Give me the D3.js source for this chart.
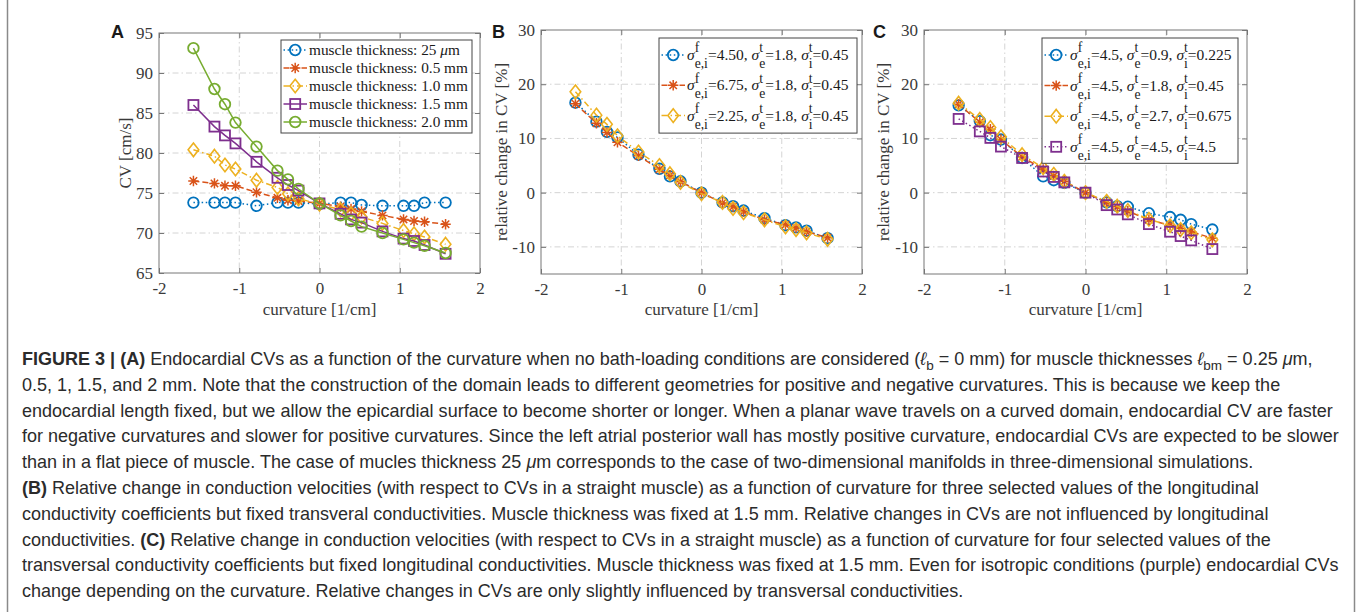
<!DOCTYPE html>
<html><head><meta charset="utf-8">
<script src="https://cdn.jsdelivr.net/npm/d3@7"></script>
<style>body{margin:0;background:#fff} svg{display:block} text{white-space:pre}</style>
</head><body><svg id="c" width="1357" height="612"></svg>
<script>
// ---------------- data ----------------
const curvature = [-1.571,-1.309,-1.178,-1.047,-0.785,-0.524,-0.393,-0.262,0,0.262,0.393,0.524,0.785,1.047,1.178,1.309,1.571];
const xTicks = [-2,-1,0,1,2];
const cvTicks = [65,70,75,80,85,90,95];
const relTicks = [-10,0,10,20,30];
const cvDomain = [65,95];
const relDomain = [-15,30];
const xDomain = [-2,2];

// Panel A: CV [cm/s]
const cv25um = [73.8,73.8,73.8,73.8,73.4,73.8,73.8,73.8,73.6,73.8,73.8,73.5,73.4,73.4,73.4,73.8,73.8];
const cv05mm = [76.5,76.2,75.9,75.9,75.1,74.4,74.1,74.0,73.7,73.3,73.0,72.7,72.2,71.7,71.5,71.4,71.1];
const cv10mm = [80.4,79.6,78.5,78.0,76.6,75.7,74.9,74.3,73.6,72.9,72.4,72.0,71.2,70.3,69.9,69.5,68.6];
const cv15mm = [86.0,83.3,82.2,81.2,78.9,76.9,76.0,75.3,73.7,72.4,71.7,71.3,70.2,69.3,69.0,68.5,67.4];
const cv20mm = [93.1,88.0,86.1,83.8,80.8,77.8,76.7,75.5,73.7,72.2,71.5,70.8,70.0,69.2,68.8,68.4,67.5];
const labelsA = ["muscle thickness: 25 ","muscle thickness: 0.5 mm","muscle thickness: 1.0 mm","muscle thickness: 1.5 mm","muscle thickness: 2.0 mm"];

// Panel B: relative change [%], longitudinal conductivities varied
const relB450 = [16.6,13.1,11.2,10.2,7.0,4.4,3.0,2.1,0,-1.8,-2.5,-3.3,-4.7,-6.0,-6.4,-7.0,-8.4];
const relB675 = [16.4,12.8,11.1,9.3,6.8,4.3,3.2,2.0,0,-1.9,-2.6,-3.5,-5.0,-5.9,-6.5,-7.2,-8.3];
const relB225 = [18.6,14.3,12.6,10.5,7.5,5.0,3.5,1.9,-0.2,-1.8,-2.9,-3.7,-5.0,-6.3,-6.8,-7.4,-8.6];
const paramsB = [["4.50","1.8","0.45"],["6.75","1.8","0.45"],["2.25","1.8","0.45"]];

// Panel C: relative change [%], transversal conductivities varied
const relC09 = [16.1,13.2,10.6,9.8,6.4,3.0,2.3,1.8,0,-1.8,-2.5,-2.6,-3.8,-4.5,-5.0,-5.8,-6.8];
const relC18 = [16.3,13.0,11.7,9.8,6.6,4.3,3.1,2.1,0,-1.8,-2.6,-3.4,-5.0,-6.0,-6.6,-7.2,-8.4];
const relC27 = [16.5,13.5,12.0,10.3,7.0,4.6,3.4,2.1,0,-1.6,-2.5,-3.3,-4.9,-6.1,-6.8,-7.4,-8.7];
const relC45 = [13.6,11.3,10.1,8.5,6.4,3.9,2.9,1.9,0,-2.3,-3.1,-4.0,-5.8,-7.2,-8.0,-8.8,-10.4];
const paramsC = [["4.5","0.9","0.225"],["4.5","1.8","0.45"],["4.5","2.7","0.675"],["4.5","4.5","4.5"]];

// ---------------- styles ----------------
const COL = {blue:"#0072BD", orange:"#D95319", yellow:"#EDB120", purple:"#7E2F8E", green:"#77AC30"};
const DASH = {":":"1.5,2.6", "--":"6,3", "-.":"6,3,1.5,3", "-":null};
const serif = "'Liberation Serif','Times New Roman',serif";
const sans = "'Liberation Sans',Arial,Helvetica,sans-serif";
const tickColor = "#3a3a3a";

const svg = d3.select("#c");

function drawMarker(g, type, x, y, color) {
  if (type === "o") {
    g.append("circle").attr("cx", x).attr("cy", y).attr("r", 5.3)
      .attr("fill", "none").attr("stroke", color).attr("stroke-width", 1.8);
  } else if (type === "*") {
    const a = 5.2, b = 3.7;
    g.append("path").attr("d", `M${x},${y-a}V${y+a}M${x-a},${y}H${x+a}M${x-b},${y-b}L${x+b},${y+b}M${x-b},${y+b}L${x+b},${y-b}`)
      .attr("fill", "none").attr("stroke", color).attr("stroke-width", 1.5);
  } else if (type === "d") {
    g.append("path").attr("d", `M${x},${y-6.8}L${x+5.3},${y}L${x},${y+6.8}L${x-5.3},${y}Z`)
      .attr("fill", "none").attr("stroke", color).attr("stroke-width", 1.6);
  } else if (type === "s") {
    g.append("rect").attr("x", x-5).attr("y", y-5).attr("width", 10).attr("height", 10)
      .attr("fill", "none").attr("stroke", color).attr("stroke-width", 1.8);
  }
}

function panel(opt) {
  const {left, right, top, bottom, yDomain, yTicks, series, ylabel, ylabelOffset, letter, letterX} = opt;
  const x = d3.scaleLinear().domain(xDomain).range([left, right]);
  const y = d3.scaleLinear().domain(yDomain).range([bottom, top]);
  const g = svg.append("g");

  // grid
  const grid = g.append("g").attr("stroke", "#d4d4d4").attr("stroke-width", 1).attr("stroke-dasharray", "6,3,1.5,3");
  xTicks.slice(1, -1).forEach(v => grid.append("line").attr("x1", x(v)).attr("x2", x(v)).attr("y1", top).attr("y2", bottom));
  yTicks.forEach(v => { if (v > yDomain[0] && v < yDomain[1]) grid.append("line").attr("x1", left).attr("x2", right).attr("y1", y(v)).attr("y2", y(v)); });

  // axes
  const ax = (gen, tr, labels) => {
    const a = g.append("g").attr("transform", tr).call(gen.tickSizeInner(-5).tickSizeOuter(0).tickFormat(labels ? (d => d < 0 ? "-" + Math.abs(d) : d) : () => ""));
    a.select(".domain").remove();
    a.selectAll("line").attr("stroke", "#777");
    a.selectAll("text").attr("fill", tickColor).style("font-family", serif).style("font-size", "17px");
    return a;
  };
  ax(d3.axisBottom(x).tickValues(xTicks).tickPadding(9), `translate(0,${bottom})`, true);
  ax(d3.axisTop(x).tickValues(xTicks), `translate(0,${top})`, false);
  ax(d3.axisLeft(y).tickValues(yTicks).tickPadding(6), `translate(${left},0)`, true);
  ax(d3.axisRight(y).tickValues(yTicks), `translate(${right},0)`, false);
  g.append("rect").attr("x", left).attr("y", top).attr("width", right-left).attr("height", bottom-top)
    .attr("fill", "none").attr("stroke", "#777").attr("stroke-width", 1);

  // labels
  g.append("text").attr("x", (left+right)/2).attr("y", 315).attr("text-anchor", "middle")
    .attr("fill", tickColor).style("font-family", serif).style("font-size", "17px").text("curvature [1/cm]");
  g.append("text").attr("transform", `translate(${left-ylabelOffset},${(top+bottom)/2}) rotate(-90)`)
    .attr("text-anchor", "middle").attr("fill", tickColor).style("font-family", serif).style("font-size", "17px").text(ylabel);
  g.append("text").attr("x", letterX).attr("y", 38).attr("fill", "#1a1a1a")
    .style("font-family", sans).style("font-weight", "bold").style("font-size", "18px").text(letter);

  // series
  series.forEach(s => {
    const line = d3.line().x((d, i) => x(curvature[i])).y(d => y(d));
    g.append("path").datum(s.values).attr("d", line).attr("fill", "none")
      .attr("stroke", s.color).attr("stroke-width", 1.5).attr("stroke-dasharray", DASH[s.dash]);
    const mg = g.append("g");
    s.values.forEach((v, i) => drawMarker(mg, s.marker, x(curvature[i]), y(v), s.color));
  });
  return g;
}

function legend(opt) {
  const {left, right, top, firstRow, rowH, series, fs, bottomPad, labelFn} = opt;
  const g = svg.append("g");
  const box = g.append("rect");
  series.forEach((s, i) => {
    const cy = firstRow + i * rowH;
    g.append("line").attr("x1", left + 2.5).attr("x2", left + 26).attr("y1", cy).attr("y2", cy)
      .attr("stroke", s.color).attr("stroke-width", 1.5).attr("stroke-dasharray", DASH[s.dash]);
    drawMarker(g, s.marker, left + 14.2, cy, s.color);
    const tg = g.append("g").attr("fill", "#1a1a1a").style("font-family", serif).style("font-size", fs + "px");
    labelFn(tg, left + 28, cy + fs * 0.32, i, fs);
  });
  const bottom = firstRow + (series.length - 1) * rowH + bottomPad;
  box.attr("x", left).attr("y", top).attr("width", right - left).attr("height", bottom - top)
    .attr("fill", "#fff").attr("stroke", "#444").attr("stroke-width", 1);
}

function rich(g, x, y, parts, fs) {
  let cx = x;
  parts.forEach(p => {
    if (p.sup !== undefined) {
      const a = g.append("text").attr("x", cx).attr("y", y - fs * 0.5).style("font-size", (fs*0.88) + "px").text(p.sup);
      const b = g.append("text").attr("x", cx).attr("y", y + fs * 0.52).style("font-size", (fs*0.88) + "px").text(p.sub);
      cx += Math.max(a.node().getComputedTextLength(), b.node().getComputedTextLength());
    } else {
      const t = g.append("text").attr("x", cx).attr("y", y).style("font-style", p.it ? "italic" : null).text(p.t);
      cx += t.node().getComputedTextLength();
    }
  });
}

function sigmaLabel(vals) {
  return [{t:"σ", it:true}, {sup:"f", sub:"e,i"}, {t:"=" + vals[0] + ", "},
          {t:"σ", it:true}, {sup:"t", sub:"e"}, {t:"=" + vals[1] + ", "},
          {t:"σ", it:true}, {sup:"t", sub:"i"}, {t:"=" + vals[2]}];
}

// ---------------- panel A ----------------
const seriesA = [
  {values: cv25um, color: COL.blue, marker: "o", dash: ":"},
  {values: cv05mm, color: COL.orange, marker: "*", dash: "--"},
  {values: cv10mm, color: COL.yellow, marker: "d", dash: "-."},
  {values: cv15mm, color: COL.purple, marker: "s", dash: "-"},
  {values: cv20mm, color: COL.green, marker: "o", dash: "-"}
];
panel({left:159, right:480, top:33, bottom:273, yDomain:cvDomain, yTicks:cvTicks, series:seriesA,
       ylabel:"CV [cm/s]", ylabelOffset:28, letter:"A", letterX:111});
legend({left:281, right:472, top:40, firstRow:50, rowH:18, series:seriesA, fs:15.3, bottomPad:11,
  labelFn:(g, x, y, i, fs) => {
    if (i === 0) rich(g, x, y, [{t:labelsA[0]}, {t:"μ", it:true}, {t:"m"}], fs);
    else rich(g, x, y, [{t:labelsA[i]}], fs);
  }});

// ---------------- panel B ----------------
const seriesB = [
  {values: relB450, color: COL.blue, marker: "o", dash: ":"},
  {values: relB675, color: COL.orange, marker: "*", dash: "--"},
  {values: relB225, color: COL.yellow, marker: "d", dash: "-."}
];
panel({left:541, right:862, top:30, bottom:274, yDomain:relDomain, yTicks:relTicks, series:seriesB,
       ylabel:"relative change in CV [%]", ylabelOffset:34, letter:"B", letterX:492});
legend({left:659, right:857, top:38, firstRow:55, rowH:30.3, series:seriesB, fs:15.5, bottomPad:17.5,
  labelFn:(g, x, y, i, fs) => rich(g, x, y, sigmaLabel(paramsB[i]), fs)});

// ---------------- panel C ----------------
const seriesC = [
  {values: relC09, color: COL.blue, marker: "o", dash: ":"},
  {values: relC18, color: COL.orange, marker: "*", dash: "--"},
  {values: relC27, color: COL.yellow, marker: "d", dash: "-."},
  {values: relC45, color: COL.purple, marker: "s", dash: ":"}
];
panel({left:924, right:1247, top:30, bottom:274, yDomain:relDomain, yTicks:relTicks, series:seriesC,
       ylabel:"relative change in CV [%]", ylabelOffset:35, letter:"C", letterX:873});
legend({left:1042, right:1238, top:38, firstRow:55, rowH:30.6, series:seriesC, fs:15.5, bottomPad:16.5,
  labelFn:(g, x, y, i, fs) => rich(g, x, y, sigmaLabel(paramsC[i]), fs)});

// ---------------- caption ----------------
const captionLines = [
  [["FIGURE 3 | (A)","b"],[" Endocardial CVs as a function of the curvature when no bath-loading conditions are considered ("],["ℓ","i"],["b","sub"],[" = 0 mm) for muscle thicknesses "],["ℓ","i"],["bm","sub"],[" = 0.25 "],["μ","i"],["m,"]],
  [["0.5, 1, 1.5, and 2 mm. Note that the construction of the domain leads to different geometries for positive and negative curvatures. This is because we keep the"]],
  [["endocardial length fixed, but we allow the epicardial surface to become shorter or longer. When a planar wave travels on a curved domain, endocardial CV are faster"]],
  [["for negative curvatures and slower for positive curvatures. Since the left atrial posterior wall has mostly positive curvature, endocardial CVs are expected to be slower"]],
  [["than in a flat piece of muscle. The case of mucles thickness 25 "],["μ","i"],["m corresponds to the case of two-dimensional manifolds in three-dimensional simulations."]],
  [["(B)","b"],[" Relative change in conduction velocities (with respect to CVs in a straight muscle) as a function of curvature for three selected values of the longitudinal"]],
  [["conductivity coefficients but fixed transveral conductivities. Muscle thickness was fixed at 1.5 mm. Relative changes in CVs are not influenced by longitudinal"]],
  [["conductivities. "],["(C)","b"],[" Relative change in conduction velocities (with respect to CVs in a straight muscle) as a function of curvature for four selected values of the"]],
  [["transversal conductivity coefficients but fixed longitudinal conductivities. Muscle thickness was fixed at 1.5 mm. Even for isotropic conditions (purple) endocardial CVs"]],
  [["change depending on the curvature. Relative changes in CVs are only slightly influenced by transversal conductivities."]]
];
const cap = svg.append("g").attr("fill", "#2b2b2b").style("font-family", sans);
function capLine(segs, yy, fs) {
  const t = cap.append("text").attr("x", 22).attr("y", yy).style("font-size", fs + "px");
  let shifted = false;
  segs.forEach(([s, st]) => {
    const ts = t.append("tspan").text(s);
    if (st === "b") ts.style("font-weight", "bold");
    if (st === "i") ts.style("font-style", "italic");
    if (st === "sub") { ts.attr("dy", fs * 0.3).style("font-size", (fs * 0.75) + "px"); shifted = true; }
    else if (shifted) { ts.attr("dy", -fs * 0.3); shifted = false; }
  });
  return t;
}
// fit font size to the widest line's extent in the figure
const probe = capLine(captionLines[3], -100, 15);
const fsCap = 15 * 1318 / probe.node().getComputedTextLength();
probe.remove();
captionLines.forEach((segs, i) => capLine(segs, 365 + i * 25.8, fsCap));

// frame lines
svg.append("line").attr("x1", 7.5).attr("x2", 7.5).attr("y1", 0).attr("y2", 612).attr("stroke", "#8a8a8a").attr("stroke-width", 1.5);
svg.append("line").attr("x1", 1354.5).attr("x2", 1354.5).attr("y1", 0).attr("y2", 612).attr("stroke", "#8a8a8a").attr("stroke-width", 1.5);
</script></body></html>
